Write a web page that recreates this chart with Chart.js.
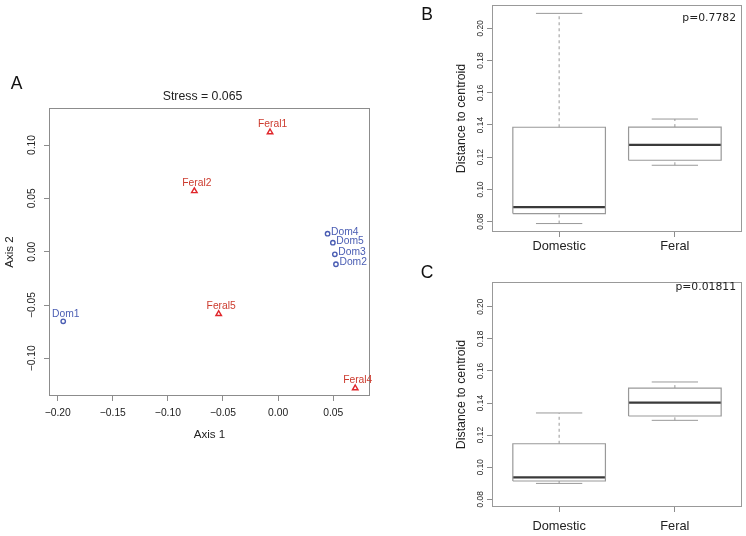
<!DOCTYPE html>
<html><head><meta charset="utf-8">
<script src="https://cdn.jsdelivr.net/npm/chart.js@4.4.1/dist/chart.umd.min.js"></script>
<style>
html,body{margin:0;padding:0;background:#fff;}
body{width:746px;height:536px;position:relative;overflow:hidden;}
.panel{position:absolute;}
</style></head><body>
<div class="panel" style="left:0;top:60px;width:404px;height:390px"><canvas id="cA"></canvas></div>
<div class="panel" style="left:410px;top:0;width:336px;height:258px"><canvas id="cB"></canvas></div>
<div class="panel" style="left:410px;top:262px;width:336px;height:274px"><canvas id="cC"></canvas></div>
<script>
// ---------- Panel A data (NMDS ordination) ----------
const domNames   = ['Dom1', 'Dom2', 'Dom3', 'Dom4', 'Dom5'];
const domAxis1   = [-0.1950, 0.0525, 0.0515, 0.0449, 0.0497];
const domAxis2   = [-0.0653, -0.0118, -0.0025, 0.0169, 0.0084];
const feralNames = ['Feral1', 'Feral2', 'Feral4', 'Feral5'];
const feralAxis1 = [-0.0073, -0.0760, 0.0700, -0.0539];
const feralAxis2 = [0.1120, 0.0569, -0.1280, -0.0584];
const axis1Ticks = [-0.20, -0.15, -0.10, -0.05, 0.00, 0.05];
const axis2Ticks = [-0.10, -0.05, 0.00, 0.05, 0.10];
const stressText = 'Stress = 0.065';

// ---------- Panel B / C data (distance to centroid boxplots) ----------
const groups = ['Domestic', 'Feral'];
const bMin = [0.0788, 0.1150];
const bQ1  = [0.0850, 0.1181];
const bMed = [0.0890, 0.1277];
const bQ3  = [0.1386, 0.1387];
const bMax = [0.2093, 0.1437];
const cMin = [0.0899, 0.1292];
const cQ1  = [0.0914, 0.1319];
const cMed = [0.0937, 0.1402];
const cQ3  = [0.1146, 0.1493];
const cMax = [0.1338, 0.1531];
const distTicks = [0.08, 0.10, 0.12, 0.14, 0.16, 0.18, 0.20];
const pValueB = 'p=0.7782';
const pValueC = 'p=0.01811';

// ---------- styles ----------
const F = "'Liberation Sans', Arial, Helvetica, sans-serif";
const MONO = "'DejaVu Sans', sans-serif";
Chart.defaults.font.family = F;
Chart.defaults.color = '#222';
const DOM_COL = '#4a5db3', FERAL_TEXT = '#cc3b2e', FERAL_PT = '#e0262b';
const FRAME = '#8c8c8c', BOXCOL = '#999999', MEDCOL = '#3a3a3a';
const BOXWEX = 0.8, STAPLE = 0.5;

const fmt = v => (v < -1e-9 ? '\u2212' : '') + Math.abs(v).toFixed(2);
const mctx = document.createElement('canvas').getContext('2d');
function widest(labels, size) {
  mctx.font = size + 'px ' + F;
  return Math.max(...labels.map(l => mctx.measureText(l).width));
}

const framePlugin = col => ({
  id: 'frame',
  afterDatasetsDraw(chart) {
    const a = chart.chartArea, ctx = chart.ctx;
    ctx.save();
    ctx.strokeStyle = col; ctx.lineWidth = 1;
    ctx.strokeRect(Math.round(a.left) + 0.5, Math.round(a.top) + 0.5,
                   Math.round(a.right - a.left) - 1, Math.round(a.bottom - a.top) - 1);
    ctx.restore();
  }
});
const textPlugin = items => ({
  id: 'texts',
  afterDraw(chart) {
    const ctx = chart.ctx;
    ctx.save();
    items.forEach(t => {
      ctx.font = t.size + 'px ' + (t.family || F);
      ctx.fillStyle = t.color || '#111';
      ctx.textAlign = t.align || 'center';
      ctx.textBaseline = 'alphabetic';
      ctx.fillText(t.text, t.x, t.y + 0.36 * t.size);
    });
    ctx.restore();
  }
});
const pointLabelPlugin = {
  id: 'pointLabels',
  afterDatasetsDraw(chart) {
    const ctx = chart.ctx;
    ctx.save();
    ctx.font = '10.3px ' + F;
    ctx.textBaseline = 'alphabetic';
    chart.data.datasets.forEach((ds, di) => {
      if (!ds.names) return;
      const meta = chart.getDatasetMeta(di);
      ctx.fillStyle = ds.textColor;
      meta.data.forEach((pt, i) => {
        if (ds.place[i] === 'right') {
          ctx.textAlign = 'left';
          ctx.fillText(ds.names[i], pt.x + 3.5, pt.y - 2.7 + 3.7);
        } else {
          ctx.textAlign = 'center';
          ctx.fillText(ds.names[i], pt.x + 2.5, pt.y - 8.5 + 3.7);
        }
      });
    });
    ctx.restore();
  }
};

const commonOpts = {
  responsive: true, maintainAspectRatio: false, animation: false, events: [],
  plugins: { legend: { display: false }, tooltip: { enabled: false } }
};
const tickGrid = { drawOnChartArea: false, drawTicks: true, tickLength: 5, color: FRAME, lineWidth: 1 };

// ---------- Panel A ----------
const a2Labels = axis2Ticks.map(fmt);
const padA = 11.7 - widest(a2Labels, 10.3) / 2;
new Chart(document.getElementById('cA'), {
  type: 'scatter',
  data: { datasets: [
    { label: 'Domestic', data: domAxis1.map((x, i) => ({ x, y: domAxis2[i] })),
      pointStyle: 'circle', pointRadius: 2.2, pointBorderWidth: 1.4,
      borderColor: DOM_COL, backgroundColor: 'rgba(0,0,0,0)',
      names: domNames, place: domNames.map(n => n === 'Dom1' ? 'top' : 'right'), textColor: DOM_COL },
    { label: 'Feral', data: feralAxis1.map((x, i) => ({ x, y: feralAxis2[i] })),
      pointStyle: 'triangle', pointRadius: 3.2, pointBorderWidth: 1.4,
      borderColor: FERAL_PT, backgroundColor: 'rgba(0,0,0,0)',
      names: feralNames, place: feralNames.map(() => 'top'), textColor: FERAL_TEXT }
  ]},
  options: Object.assign({}, commonOpts, {
    layout: { padding: { top: 48, right: 34, left: 0, bottom: 0 } },
    scales: {
      x: { type: 'linear', min: -0.2079, max: 0.0834,
        afterBuildTicks: s => { s.ticks = axis1Ticks.map(v => ({ value: v })); },
        afterFit: s => { s.height = 54; },
        grid: tickGrid, border: { display: false },
        ticks: { callback: v => fmt(v), font: { size: 10.3 }, padding: 6.4, maxRotation: 0, autoSkip: false, color: '#222' },
        title: { display: true, text: 'Axis 1', font: { size: 11.6 }, padding: { top: 0, bottom: 8 }, color: '#222' } },
      y: { type: 'linear', min: -0.1353, max: 0.1347,
        afterBuildTicks: s => { s.ticks = axis2Ticks.map(v => ({ value: v })); },
        afterFit: s => { s.width = 49; },
        grid: tickGrid, border: { display: false },
        ticks: { callback: v => fmt(v), font: { size: 10.3 }, minRotation: 90, maxRotation: 90,
                 crossAlign: 'center', padding: padA, autoSkip: false, color: '#222' },
        title: { display: true, text: 'Axis 2', font: { size: 11.6 }, padding: { top: 3, bottom: 0 }, color: '#222' } }
    }
  }),
  plugins: [framePlugin(FRAME), pointLabelPlugin, textPlugin([
    { text: 'A', x: 16.7, y: 23, size: 17.5, color: '#111' },
    { text: stressText, x: 202.5, y: 35.7, size: 12.3, color: '#222' }
  ])]
});

// ---------- Box panels ----------
function seg(points, color, width, dash) {
  return { type: 'line', data: points.map(p => ({ x: p[0], y: p[1] })),
    borderColor: color, borderWidth: width, borderDash: dash || [], pointRadius: 0,
    fill: false, tension: 0, showLine: true, clip: false };
}
function boxDatasets(mn, q1, med, q3, mx) {
  const ds = [];
  groups.forEach((g, i) => {
    const c = i + 1, h = BOXWEX / 2, s = BOXWEX * STAPLE / 2;
    ds.push(seg([[c, q3[i]], [c, mx[i]]], BOXCOL, 1, [3, 3]));
    ds.push(seg([[c, mn[i]], [c, q1[i]]], BOXCOL, 1, [3, 3]));
    ds.push(seg([[c - s, mx[i]], [c + s, mx[i]]], BOXCOL, 1));
    ds.push(seg([[c - s, mn[i]], [c + s, mn[i]]], BOXCOL, 1));
    ds.push(seg([[c - h, q1[i]], [c + h, q1[i]], [c + h, q3[i]], [c - h, q3[i]], [c - h, q1[i]]], BOXCOL, 1.2));
    ds.push(seg([[c - h, med[i]], [c + h, med[i]]], MEDCOL, 2.2));
  });
  return ds;
}
const dLabels = distTicks.map(v => v.toFixed(2));
const padD = 6.5 - widest(dLabels, 8.4) / 2;
function boxChart(id, stats, yMin, yMax, pad, xPad, letter, letterY, pText, pY) {
  new Chart(document.getElementById(id), {
    type: 'scatter',
    data: { datasets: boxDatasets(...stats) },
    options: Object.assign({}, commonOpts, {
      layout: { padding: { top: pad.top, right: 4, left: 0, bottom: 0 } },
      scales: {
        x: { type: 'linear', min: 0.42, max: 2.58,
          afterBuildTicks: s => { s.ticks = groups.map((g, i) => ({ value: i + 1 })); },
          afterFit: s => { s.height = pad.xh; },
          grid: tickGrid, border: { display: false },
          ticks: { callback: v => groups[Math.round(v) - 1], font: { size: 12.8 }, padding: xPad,
                   maxRotation: 0, autoSkip: false, color: '#222' } },
        y: { type: 'linear', min: yMin, max: yMax,
          afterBuildTicks: s => { s.ticks = distTicks.map(v => ({ value: v })); },
          afterFit: s => { s.width = 82; },
          grid: tickGrid, border: { display: false },
          ticks: { callback: v => v.toFixed(2), font: { size: 8.4 }, minRotation: 90, maxRotation: 90,
                   crossAlign: 'center', padding: padD, autoSkip: false, color: '#222' },
          title: { display: true, text: 'Distance to centroid', font: { size: 12.4 },
                   padding: { top: 44.5, bottom: 0 }, color: '#222' } }
      }
    }),
    plugins: [framePlugin(BOXCOL), textPlugin([
      { text: letter, x: 17, y: letterY, size: 17.5, color: '#111' },
      { text: pText, x: 326, y: pY, size: 10.8, family: MONO, align: 'right', color: '#222' }
    ])]
  });
}
boxChart('cB', [bMin, bQ1, bMed, bQ3, bMax], 0.07356, 0.2145, { top: 5, xh: 26 }, 1.6, 'B', 13.7, pValueB, 16.7);
boxChart('cC', [cMin, cQ1, cMed, cQ3, cMax], 0.0752, 0.2154, { top: 20, xh: 29 }, 6.9, 'C', 10, pValueC, 24);
</script>
</body></html>
